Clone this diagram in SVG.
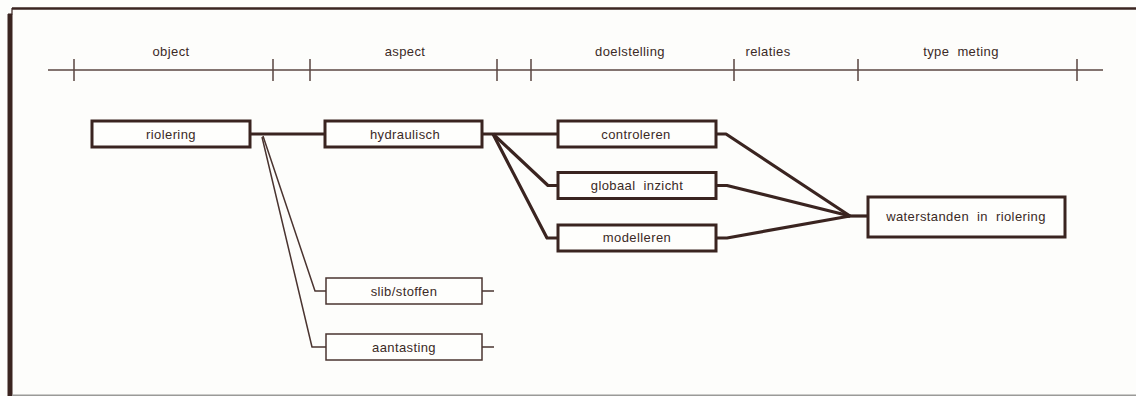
<svg xmlns="http://www.w3.org/2000/svg" width="1136" height="396" viewBox="0 0 1136 396">
<style>
.bg{fill:#fdfdfb}
.frame{fill:none;stroke:#3a2420}
.axis{fill:none;stroke:#5a4642;stroke-width:1.5}
.lbl{font-family:"Liberation Sans",Arial,sans-serif;font-size:13px;fill:#3b2a26;letter-spacing:0.4px;text-anchor:middle}
.box{fill:#fefefc;stroke:#3a2420;stroke-width:3}
.tbox{fill:#fefefc;stroke:#4a3430;stroke-width:1.5}
.thick{fill:none;stroke:#3a2420;stroke-width:3.2;stroke-linejoin:round}
.thin{fill:none;stroke:#4a3430;stroke-width:1.5;stroke-linejoin:round}
</style>
<rect class="bg" x="0" y="0" width="1136" height="396"/>
<g id="frame">
<path class="frame" stroke-width="2.5" d="M12,8.5 H1136"/>
<path class="frame" stroke-width="1.2" d="M12,8 V14 H8"/>
<path class="frame" stroke-width="5" d="M10,14 V396"/>
<path stroke="#9a9a98" stroke-width="1.5" d="M12,395.2 H1136"/>
</g>
<g id="axis">
<path class="axis" d="M48,70 H1103"/>
<path class="axis" d="M74,59 V81 M273,59 V81 M310,59 V81 M497,59 V81 M531,59 V81 M734,59 V81 M858,59 V81 M1077,59 V81"/>
<text class="lbl" x="171" y="56">object</text>
<text class="lbl" x="405" y="56">aspect</text>
<text class="lbl" x="630" y="56">doelstelling</text>
<text class="lbl" x="768" y="56">relaties</text>
<text class="lbl" x="961" y="56" xml:space="preserve">type  meting</text>
</g>
<g id="connectors">
<path class="thick" d="M250,134 H325"/>
<path class="thin" d="M263,136 L315,291 H326"/>
<path class="thin" d="M262,137 L312,347 H326"/>
<path class="thin" d="M482,291 H494 M482,347 H494"/>
<path class="thick" d="M482,134 H558"/>
<path class="thick" d="M493,134 L548,185.5 H558"/>
<path class="thick" d="M493,134 L547,238 H558"/>
<path class="thick" d="M716,134 H726 L850,216"/>
<path class="thick" d="M716,185.5 H727 L850,216"/>
<path class="thick" d="M716,238 H727 L850,216"/>
<path class="thick" d="M848,216 H868"/>
</g>
<g id="n-riolering">
<rect class="box" x="92" y="121" width="158" height="26"/>
<text class="lbl" x="171" y="138.5">riolering</text>
</g>
<g id="n-hydraulisch">
<rect class="box" x="325" y="121" width="157" height="26"/>
<text class="lbl" x="405" y="138.5">hydraulisch</text>
</g>
<g id="n-slib">
<rect class="tbox" x="326" y="278" width="156" height="26"/>
<text class="lbl" x="404" y="295.5">slib/stoffen</text>
</g>
<g id="n-aantasting">
<rect class="tbox" x="326" y="334" width="156" height="26"/>
<text class="lbl" x="404" y="351.5">aantasting</text>
</g>
<g id="n-controleren">
<rect class="box" x="558" y="121" width="158" height="26"/>
<text class="lbl" x="636" y="138.5">controleren</text>
</g>
<g id="n-globaal">
<rect class="box" x="558" y="172.5" width="158" height="26"/>
<text class="lbl" x="637" y="189.5" xml:space="preserve">globaal  inzicht</text>
</g>
<g id="n-modelleren">
<rect class="box" x="558" y="225" width="158" height="26"/>
<text class="lbl" x="637" y="242">modelleren</text>
</g>
<g id="n-waterstanden">
<rect class="box" x="868" y="197" width="197" height="40"/>
<text class="lbl" x="966" y="221" xml:space="preserve">waterstanden  in  riolering</text>
</g>
</svg>
